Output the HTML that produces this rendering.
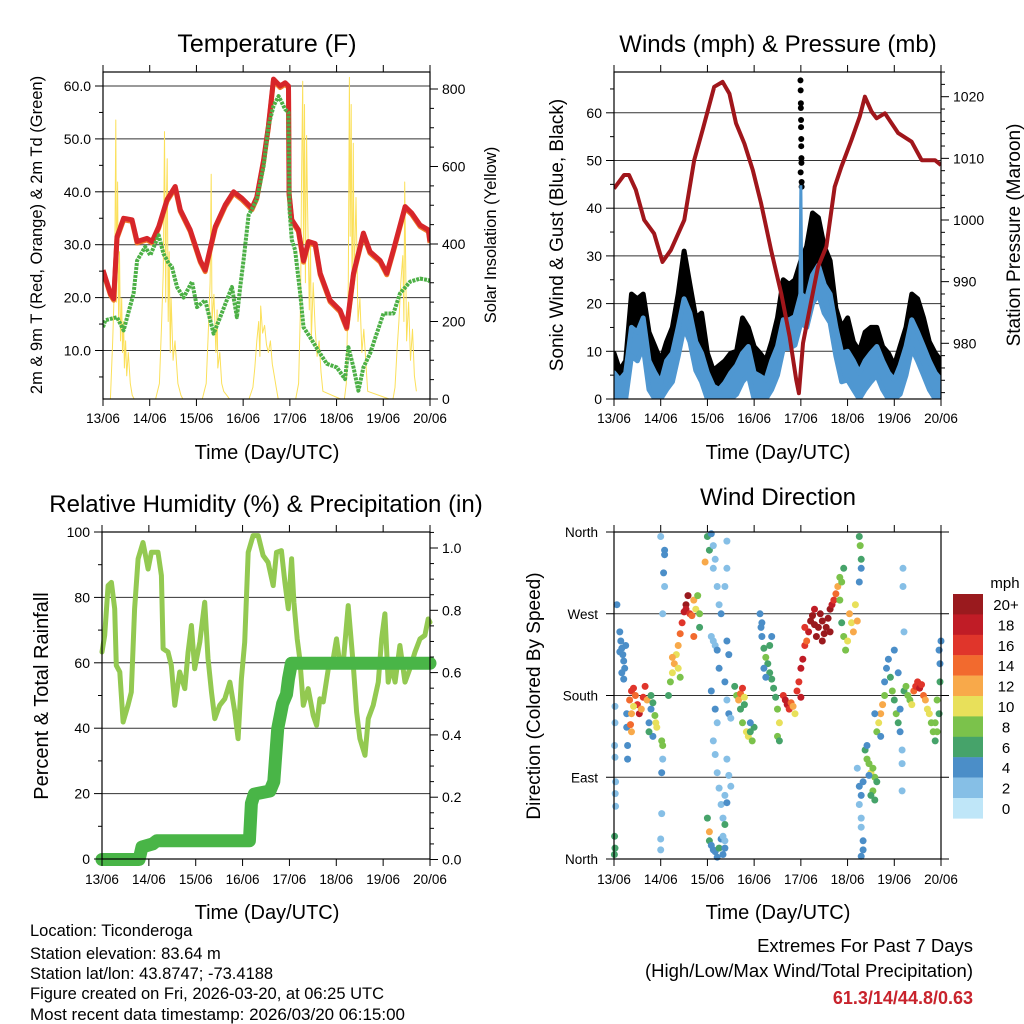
<!DOCTYPE html>
<html><head><meta charset="utf-8">
<style>
html,body{margin:0;padding:0;background:#fff;}
svg{display:block;font-family:"Liberation Sans",Arial,sans-serif;}
</style></head>
<body>
<svg id="chart" width="1024" height="1024" viewBox="0 0 1024 1024" xmlns="http://www.w3.org/2000/svg">
<rect width="1024" height="1024" fill="#fff"/>
</svg>
<script>
// ---------- DATA ----------
const dayLabels = ["13/06","14/06","15/06","16/06","17/06","18/06","19/06","20/06"];
// Temperature (F)
const tempHours = [0,3.8,5.5,7.2,10.6,14.9,17.5,22.6,25.2,28.6,32.9,37.1,39.7,44.8,50,52.5,57.7,62.8,67.1,71.3,76.5,79,82.5,85,87.6,91,93.6,95.3,95.6,97,100.4,103,105.6,109,111.6,116.7,121.8,125.2,128.7,133.8,137.2,142.4,145.8,149.2,155.2,158.6,162.9,167.2,168];
const tempValues = [25.2,20.8,19.8,31.5,35,34.7,30.6,31.2,30.6,33.4,38.5,41,36.6,32.8,27,25.2,33.4,37.5,40,38.8,36.9,39,46,52.4,61.3,60,60.6,60,39.7,34.7,32.8,27,30.6,30.2,24.6,19.5,17.6,14.4,24.6,32.2,28.7,27,24.6,29,37.2,36,33.7,32.8,30.6];
const dewHours = [0,1.2,7.2,10.6,15.7,17.5,21.7,24.3,28.6,31.1,33.7,35.4,38,41.4,45.7,48.3,52.5,56.8,60.2,66.2,68.8,70.5,72.2,74.8,79,82.5,85,87.6,90.2,93.6,95.3,95.8,97,98.7,101.3,103,106.4,111.6,115,120.1,124.4,126.1,128.7,131.2,133.8,137.2,140.6,144.1,149.2,152.6,157.8,162.9,167.2,168];
const dewValues = [14.4,15.7,16.3,13.8,20.8,27,29.6,28,31.8,28.3,26.5,25.8,22,20,23,18.2,19.5,13.2,16.3,22,16.3,22,27,35.6,38.5,44.8,52.4,56.2,58.1,55.6,55,36.6,30.9,29,20.8,14.4,12.5,9.4,7.5,6.8,4.6,10.6,6.8,2.4,6.8,9.4,13.2,17,17,20.8,23,23.6,23.3,23];
const solarHours = [0,3.8,5,6,6.6,7,7.5,8,8.5,9,9.6,10,10.6,11,11.6,12.2,13,14,15,16,27,29,30,31,31.6,32.2,32.6,33,33.5,34,34.6,35,36,37,38.5,40,41,51,53,54,55,55.6,56,57,58,58.6,59,60,61,62,63.5,65,66,75,77,78,79,80,80.6,81,82,83,84,85,86,87,88,89,90,99,100.5,101.5,102,102.6,103,103.5,104,104.6,105,106,106.6,107,108,109,110,111,112,113,122,124,125,126,126.6,127,127.5,128,128.6,129,130,131,132,133,134,135.5,136,147,149,150,151,152,153,154,154.6,155,156,157,158,159,160,161];
const solarValues = [0,0,150,320,720,250,560,200,380,150,260,120,200,80,150,60,120,40,10,0,0,40,180,330,690,250,520,620,200,380,120,260,100,150,40,10,0,0,40,160,300,580,200,270,120,230,80,120,40,20,10,0,0,0,30,80,150,200,110,240,170,190,140,120,150,90,60,30,0,0,40,250,560,820,400,760,300,680,520,230,410,150,300,180,110,150,70,20,0,0,40,300,830,420,760,250,660,300,520,200,260,120,180,60,20,0,0,30,120,200,300,370,200,560,150,250,100,180,60,20,0];
// Winds (mph) & Pressure (mb)
const windHours = [0,3,6,9,12,15,18,21,24,27,30,33,36,39,42,45,48,51,54,57,60,63,66,69,72,75,78,81,84,87,90,93,96,99,102,105,108,111,114,117,120,123,126,129,132,135,138,141,144,147,150,153,156,159,162,165,168];
const windValues = [5.5,4,5.5,15,14,17,8,5.5,3.4,8,9.6,15,21,18,12,9.6,5.5,2.7,2,3.4,5.5,7,9.6,11,5.5,4.8,4,8,11,16.6,16.6,17.3,22,21,26,28,24,22,15,9.6,10,8,5.5,8,9.6,11,8,5.5,4,7,11,16.6,14,11,8,5.5,4];
const gustValues = [9.6,6,8,22,21,22,14,11,8,12,15,22,31,24,17,18,9.6,6,7,8,9.6,10,17,15,11,9.6,8,12,17,25,24,25,29,32,39,38,32,29,19,15,17,12,10,14,15,15,11,9.6,7,11,15,22,21,17,12,9.6,8];
const spikeHours = [95.8,95.9,96,96,96.1,96.1,96.2,96.2,96.3,96.3,95.9,96.4,96.4];
const spikeGusts = [66.8,64.7,62,61,58.5,57,54.5,53,50.5,49.5,47.5,45.5,44.5];
const spikeWind = 44.8;
const presHours = [0,5.2,7.7,11.2,15.5,20.6,24.9,29.2,36.1,41.2,45.5,51.5,55.8,59.3,62.7,67,71.3,75.6,80.7,85.9,90.2,93.6,95,97.1,101.4,104.8,109.1,113.4,116.8,122,126.3,128.9,132.3,134.9,139.2,146,152.9,158.1,164.9,168];
const presValues = [1005.1,1007.3,1007.3,1004.9,1000,997.8,993.2,995.1,1000,1009.7,1014.6,1021.6,1022.4,1020.5,1015.7,1012.4,1008.1,1002.7,995.1,988.1,981.1,974.1,971.9,980,987,992.4,995.7,1005.4,1008.6,1013,1016.8,1020,1017.6,1016.5,1017.3,1014.1,1012.7,1009.7,1009.7,1008.9];
// Relative humidity & precipitation
const rhHours = [0,1.4,3.1,4.8,6.5,7.3,9.1,10.8,13.3,15,16.7,18.5,21,23.6,25.3,28.7,30.4,31.3,33.8,35.5,37.3,39.8,42.4,44.1,45.8,47.5,50.1,52.6,54.3,56.1,57.8,60.3,62.9,65.5,68,69.7,71.4,73.1,74.9,77.4,80,82.5,85.1,87.7,89.4,91.9,93.7,95.4,97.1,98.3,100,101.3,103.1,105.6,108.2,109.9,111.6,113.3,115.9,118.4,120.1,121.9,123.6,126.1,128.7,130.4,132.1,134.7,136.4,138.9,141.5,143.2,144.9,146.6,148.3,150.1,152.6,155.2,157.7,160.3,162.9,165.4,167.1,168];
const rhValues = [63.3,68.4,83.6,84.6,76.5,59.2,57.2,41.9,47,51,76.5,91.8,96.8,88.7,93.8,93.8,86.7,64.3,63.3,59.2,47,57.2,52.1,63.3,71.4,58.2,66.3,78.5,61.4,51,42.9,47,49,54.1,45,36.8,55.1,66.3,93.8,98.9,98.9,92.8,90.7,83.6,93.8,94.3,84.6,76.5,91.8,78.5,67.3,61.2,47,52.1,43.9,40.9,49,48,58.2,61.2,67.3,59.2,60.2,77.5,59.2,45,36.8,31.7,42.9,47,54.1,67.3,75,54.1,59.2,54.1,65.3,54.1,58.2,63.3,67.3,68.4,73.4,72.4];
const precipHours = [0,19,20.5,26,28,75.5,76.5,78,86,88,90,92.5,94.5,95.5,97,168];
const precipValues = [0,0,0.04,0.05,0.06,0.06,0.18,0.21,0.22,0.25,0.42,0.5,0.53,0.58,0.63,0.63];
// Wind direction scatter: [hour, direction (deg), speed (mph)]
const dirHours = [0.5,0.5,0.3,0.5,0.8,0.6,0.8,0.3,0.5,0.2,1.5,3,3.5,4,4.5,5,5.5,4,5,6,3,6.5,6.5,7,7,8,9,10,11,12,13,15,16,14,9,8.5,9,10,17,18,19,20,21,21.5,22,20,18,19,24.5,25,25,24.5,24.5,24,24,24,26,25.5,26,25,26,28,29,30,31,32,30,33,34,35,36,37,38,37,39,40,41,42,43,44,44,34,33,41,46.8,48,49,50,51,51,52,53,54,50,51,52,53,54,55,50,52,53,51,52,53,54,55,56,57,48,49,49,50,51,52,53,54,55,56,57,58,58,57,58,59,57,58,59,60,58,59,60,57,58,56,57,62,63,64,65,66,67,67,65,66,68,69,70,71,72,70,75,75.5,76,77,78,79,80,81,82,83,84,85,84,85,76,77,78,80,81,87,88,89,90,91,92,93,94,95,96,97,98,99,96,100,101,102,103,104,105,106,107,108,109,110,111,112,113,114,115,116,103,107,111,98,116,117,118,119,120,121,122,123,124,125,117,118,126,126.5,127,126,127,125,126,127,128,126,127,127,128,128,127,129,130,131,132,133,134,135,133,134,132,130,131,135,136,137,138,139,137,134,139,140,141,142,143,144,145,146,147,148,148,144,146,148,147,149,150,148.5,148.5,149,151,152,153,154,155,156,157,158,159,160,161,162,163,164,165,166,167,167.5,167.5,167,168,166,165];
const dirValues = [168,150,125,112,85,72,58,25,12,5,280,250,240,232,225,218,210,205,198,235,228,160,145,125,110,175,185,188,180,170,160,178,190,165,160,148,140,168,175,150,165,172,158,150,145,135,140,180,130,125,110,95,50,22,10,355,335,315,300,270,340,180,195,205,215,225,222,235,248,260,272,280,290,275,270,268,285,275,290,270,255,200,210,245,327,355,340,358,345,320,330,300,280,245,240,235,230,210,270,185,165,150,130,115,95,78,60,45,38,45,30,20,15,10,8,2,12,22,25,20,350,320,300,240,225,195,175,160,155,110,92,80,70,62,5,12,190,180,175,182,188,178,170,165,150,140,135,140,130,145,150,270,255,245,232,222,215,205,198,188,178,165,150,135,130,260,210,200,235,245,180,175,170,165,172,168,160,185,195,210,220,235,240,178,250,262,268,258,245,255,270,262,248,255,265,275,280,285,292,300,310,275,240,250,255,285,260,245,230,240,270,260,250,280,262,305,320,355,345,330,305,320,100,80,70,85,60,45,35,20,10,3,120,110,105,95,100,90,85,75,65,70,125,92,140,150,160,170,180,135,160,195,210,220,200,185,175,160,150,140,120,105,230,205,75,165,185,190,320,300,250,180,175,170,185,190,195,188,192,180,175,165,160,150,140,130,140,160,195,215,230,240,175,150];
const dirSpeeds = [2,2,2,2,2,2,2,6,6,6,4,4,4,4,4,4,4,4,4,4,4,4,4,4,4,14,16,16,14,16,18,16,16,12,12,14,12,10,12,4,4,6,8,10,10,4,6,6,8,8,2,4,2,2,2,2,4,4,2,2,4,6,8,10,12,10,12,12,14,16,18,20,20,18,16,14,12,10,8,8,6,8,10,14,12,6,6,4,2,2,2,2,2,2,2,2,4,4,4,4,4,2,2,2,2,2,2,2,6,6,12,6,4,4,4,4,6,4,2,2,2,2,2,4,4,4,2,4,2,2,2,2,2,4,4,4,6,8,12,14,16,10,6,6,8,10,10,6,8,6,4,4,4,4,6,8,6,6,6,6,6,8,10,8,6,4,4,4,6,4,16,18,18,16,14,12,10,16,16,18,18,16,14,18,18,20,20,20,20,20,20,20,20,20,20,20,18,16,14,12,8,18,20,20,16,8,6,8,8,10,12,10,12,10,12,8,6,6,8,6,4,4,2,4,4,4,2,2,2,4,4,4,6,8,8,10,8,8,6,8,6,6,4,4,8,10,12,12,8,4,4,4,4,4,6,8,6,8,6,4,2,2,4,4,2,4,6,8,2,2,2,8,8,10,14,16,16,18,16,14,12,10,10,8,8,6,8,6,6,4,4,4,8,8];
const speedColors = ["#bfe6f8","#86bfe6","#4b8ec8","#46a36a","#7bc24b","#e8e05a","#f8a94a","#f26a2e","#e0352b","#c01c26","#9a1a1e"];
const speedLabels = ["0","2","4","6","8","10","12","14","16","18","20+"];

// ---------- HELPERS ----------
const NS="http://www.w3.org/2000/svg";
const svg=document.getElementById("chart");
function mk(tag,attrs,parent){const e=document.createElementNS(NS,tag);for(const k in attrs)e.setAttribute(k,attrs[k]);(parent||svg).appendChild(e);return e;}
function txt(s,x,y,size,anchor,parent,extra){const t=mk("text",Object.assign({x:x,y:y,"font-size":size,"text-anchor":anchor||"middle",fill:"#000"},extra||{}),parent);t.textContent=s;return t;}
function lin(d0,d1,r0,r1){return v=>r0+(v-d0)*(r1-r0)/(d1-d0);}
function pathFrom(xs,ys,fx,fy){let d="";for(let i=0;i<xs.length;i++){d+=(i?"L":"M")+fx(xs[i]).toFixed(1)+","+fy(ys[i]).toFixed(1);}return d;}

function frame(g,P,xs){
  for(let i=0;i<=7;i++){
    const x=xs(i*24);
    mk("line",{x1:x,x2:x,y1:P.y1,y2:P.y1+7,stroke:"#000","stroke-width":1},g);
    mk("line",{x1:x,x2:x,y1:P.y0,y2:P.y0-7,stroke:"#000","stroke-width":1},g);
  }
}

// ---------- PANEL 1: TEMPERATURE ----------
(function(){
  const P={x0:103,x1:430,y0:72,y1:399};
  const g=mk("g",{});
  
  
  const xs=lin(0,168,P.x0,P.x1), ys=lin(10,60,350.5,86), yr=lin(0,800,399,89);
  const defs=mk("defs",{},g);const cp=mk("clipPath",{id:"c1"},defs);mk("rect",{x:P.x0,y:P.y0,width:P.x1-P.x0,height:P.y1-P.y0},cp);
  for(let v=10;v<=60;v+=10){mk("line",{x1:P.x0,x2:P.x1,y1:ys(v),y2:ys(v),stroke:"#333","stroke-width":1},g);}
  const plot=mk("g",{"clip-path":"url(#c1)"},g);
  const sol=mk("path",{d:pathFrom(solarHours,solarValues,xs,yr),fill:"none",stroke:"#fbe05a","stroke-width":1,"stroke-linejoin":"round"},plot);
  
  
  const t2=mk("path",{d:pathFrom(tempHours,tempValues,xs,ys),transform:"translate(0,1.5)",fill:"none",stroke:"#f07a2a","stroke-width":5,"stroke-linejoin":"round"},plot);
  
  
  const t1=mk("path",{d:pathFrom(tempHours,tempValues,xs,ys),fill:"none",stroke:"#d7262a","stroke-width":5,"stroke-linejoin":"round"},plot);
  
  
  const dw=mk("path",{d:pathFrom(dewHours,dewValues,xs,ys),fill:"none",stroke:"#4cb046","stroke-width":4,"stroke-dasharray":"3 1","stroke-linejoin":"round"},plot);
  
  
  mk("rect",{x:P.x0,y:P.y0,width:P.x1-P.x0,height:P.y1-P.y0,fill:"none",stroke:"#000","stroke-width":1.2},g);
  frame(g,P,xs);
  for(let v=5;v<=60;v+=5){const y=ys(v);mk("line",{x1:P.x0-(v%10?4:8),x2:P.x0,y1:y,y2:y,stroke:"#000"},g);
    if(v%10==0)txt(v.toFixed(1),P.x0-12,y+5,14,"end",g);}
  for(let v=0;v<=800;v+=50){const y=yr(v);mk("line",{x1:P.x1,x2:P.x1+(v%200?4:8),y1:y,y2:y,stroke:"#000"},g);
    if(v%200==0)txt(String(v),P.x1+12,y+5,14,"start",g);}
  for(let i=0;i<=7;i++)txt(dayLabels[i],xs(i*24),423,13.5,"middle",g);
  const tt=txt("Temperature (F)",267,52,25,"middle",g);
  
  
  const xt=txt("Time (Day/UTC)",267,459,20,"middle",g);
  
  
  const yl=txt("2m & 9m T (Red, Orange) & 2m Td (Green)",0,0,16.5,"middle",g,{transform:"translate(42,235) rotate(-90)"});
  
  
  const yr2=txt("Solar Insolation (Yellow)",0,0,16.5,"middle",g,{transform:"translate(496,235) rotate(-90)"});
  
  
})();

// ---------- PANEL 2: WINDS ----------
(function(){
  const P={x0:614,x1:941,y0:72,y1:399};
  const g=mk("g",{});
  
  
  const xs=lin(0,168,P.x0,P.x1), ys=lin(0,60,399,112.8), yp=lin(980,1020,343.3,96.7);
  const defs=mk("defs",{},g);const cp=mk("clipPath",{id:"c2"},defs);mk("rect",{x:P.x0,y:P.y0,width:P.x1-P.x0,height:P.y1-P.y0},cp);
  for(let v=10;v<=60;v+=10){mk("line",{x1:P.x0,x2:P.x1,y1:ys(v),y2:ys(v),stroke:"#333","stroke-width":1},g);}
  const plot=mk("g",{"clip-path":"url(#c2)"},g);
  let d="";for(let i=0;i<windHours.length;i++)d+=(i?"L":"M")+xs(windHours[i]).toFixed(1)+","+ys(gustValues[i]).toFixed(1);
  for(let i=windHours.length-1;i>=0;i--)d+="L"+xs(windHours[i]).toFixed(1)+","+ys(windValues[i]).toFixed(1);
  const gb=mk("path",{d:d+"Z",fill:"#000",stroke:"#000","stroke-width":5,"stroke-linejoin":"round"},plot);
  
  
  for(let i=0;i<spikeHours.length;i++){
    const c=mk("circle",{cx:xs(spikeHours[i]),cy:ys(spikeGusts[i]),r:3,fill:"#000"},plot);
    
    
  }
  let d2="";for(let i=0;i<windHours.length;i++)d2+=(i?"L":"M")+xs(windHours[i]).toFixed(1)+","+ys(windValues[i]).toFixed(1);
  for(let i=windHours.length-1;i>=0;i--)d2+="L"+xs(windHours[i]).toFixed(1)+","+ys(Math.max(0,windValues[i]-6)).toFixed(1);
  const wb=mk("path",{d:d2+"Z",fill:"#4f97d1",stroke:"#4f97d1","stroke-width":5,"stroke-linejoin":"round"},plot);
  
  
  const sp=mk("path",{d:"M"+xs(95.4)+","+ys(18)+"L"+xs(96)+","+ys(spikeWind)+"L"+xs(96.6)+","+ys(18)+"Z",fill:"#4f97d1",stroke:"#4f97d1","stroke-width":3},plot);
  
  
  const pr=mk("path",{d:pathFrom(presHours,presValues,xs,yp),fill:"none",stroke:"#a0161b","stroke-width":4,"stroke-linejoin":"round"},plot);
  
  
  mk("rect",{x:P.x0,y:P.y0,width:P.x1-P.x0,height:P.y1-P.y0,fill:"none",stroke:"#000","stroke-width":1.2},g);
  frame(g,P,xs);
  for(let v=0;v<=65;v+=5){const y=ys(v);mk("line",{x1:P.x0-(v%10?4:8),x2:P.x0,y1:y,y2:y,stroke:"#000"},g);
    if(v%10==0)txt(String(v),P.x0-12,y+5,14,"end",g);}
  for(let v=972;v<=1024;v+=2){const y=yp(v);mk("line",{x1:P.x1,x2:P.x1+(v%10?4:8),y1:y,y2:y,stroke:"#000"},g);
    if(v%10==0)txt(String(v),P.x1+12,y+5,14,"start",g);}
  for(let i=0;i<=7;i++)txt(dayLabels[i],xs(i*24),423,13.5,"middle",g);
  const tt=txt("Winds (mph) & Pressure (mb)",778,52,24,"middle",g);
  
  
  const xt=txt("Time (Day/UTC)",778,459,20,"middle",g);
  
  
  const yl=txt("Sonic Wind & Gust (Blue, Black)",0,0,19,"middle",g,{transform:"translate(563,235) rotate(-90)"});
  
  
  const yr2=txt("Station Pressure (Maroon)",0,0,19,"middle",g,{transform:"translate(1020,235) rotate(-90)"});
  
  
})();

// ---------- PANEL 3: RH & PRECIP ----------
(function(){
  const P={x0:102,x1:430,y0:532,y1:859};
  const g=mk("g",{});
  
  
  const xs=lin(0,168,P.x0,P.x1), ys=lin(0,100,859,532), yr=lin(0,1,859.5,548);
  for(let v=20;v<=80;v+=20){mk("line",{x1:P.x0,x2:P.x1,y1:ys(v),y2:ys(v),stroke:"#333","stroke-width":1},g);}
  const rh=mk("path",{d:pathFrom(rhHours,rhValues,xs,ys),fill:"none",stroke:"#93c951","stroke-width":5,"stroke-linejoin":"round","stroke-linecap":"round"},g);
  
  
  const pc=mk("path",{d:pathFrom(precipHours,precipValues,xs,yr),fill:"none",stroke:"#49b547","stroke-width":13,"stroke-linejoin":"round","stroke-linecap":"round"},g);
  
  
  mk("rect",{x:P.x0,y:P.y0,width:P.x1-P.x0,height:P.y1-P.y0,fill:"none",stroke:"#000","stroke-width":1.2},g);
  frame(g,P,xs);
  for(let v=0;v<=100;v+=10){const y=ys(v);mk("line",{x1:P.x0-(v%20?4:8),x2:P.x0,y1:y,y2:y,stroke:"#000"},g);
    if(v%20==0)txt(String(v),P.x0-12,y+5,14,"end",g);}
  for(let k=0;k<=21;k++){const v=k*0.05;const y=yr(v);mk("line",{x1:P.x1,x2:P.x1+(k%4?4:8),y1:y,y2:y,stroke:"#000"},g);
    if(k%4==0)txt(v.toFixed(1),P.x1+12,y+5,14,"start",g);}
  for(let i=0;i<=7;i++)txt(dayLabels[i],xs(i*24),884,13.5,"middle",g);
  const tt=txt("Relative Humidity (%) & Precipitation (in)",266,512,24,"middle",g);
  
  
  const xt=txt("Time (Day/UTC)",267,919,20,"middle",g);
  
  
  const yl=txt("Percent & Total Rainfall",0,0,20,"middle",g,{transform:"translate(48,696) rotate(-90)"});
  
  
})();

// ---------- PANEL 4: WIND DIRECTION ----------
(function(){
  const P={x0:614,x1:941,y0:532,y1:859};
  const g=mk("g",{});
  
  
  const xs=lin(0,168,P.x0,P.x1), ys=lin(0,360,859,532);
  for(let v=90;v<=270;v+=90){mk("line",{x1:P.x0,x2:P.x1,y1:ys(v),y2:ys(v),stroke:"#333","stroke-width":1},g);}
  for(let i=0;i<dirHours.length;i++){
    const ci=Math.min(10,Math.max(0,Math.round(dirSpeeds[i]/2)));
    const c=mk("circle",{cx:xs(dirHours[i]).toFixed(1),cy:ys(dirValues[i]).toFixed(1),r:3.5,fill:speedColors[ci]},g);
    
    
  }
  mk("rect",{x:P.x0,y:P.y0,width:P.x1-P.x0,height:P.y1-P.y0,fill:"none",stroke:"#000","stroke-width":1.2},g);
  frame(g,P,xs);
  const dl=["North","East","South","West","North"];
  for(let k=0;k<=4;k++){const y=ys(k*90);mk("line",{x1:P.x0-8,x2:P.x0,y1:y,y2:y,stroke:"#000"},g);
    txt(dl[k],P.x0-16,y+5,13.5,"end",g);
    mk("line",{x1:P.x1,x2:P.x1+8,y1:y,y2:y,stroke:"#000"},g);}
  for(let i=0;i<=7;i++)txt(dayLabels[i],xs(i*24),884,13.5,"middle",g);
  const tt=txt("Wind Direction",778,505,24,"middle",g);
  
  
  const xt=txt("Time (Day/UTC)",778,919,20,"middle",g);
  
  
  const yl=txt("Direction (Colored By Speed)",0,0,19,"middle",g,{transform:"translate(540,696) rotate(-90)"});
  
  
  const cb=mk("g",{},g);
  
  
  txt("mph",1005,588,15,"middle",cb);
  for(let k=0;k<11;k++){
    const idx=10-k, y=594+k*20.4;
    const r=mk("rect",{x:953,y:y,width:30,height:20.6,fill:speedColors[idx]},cb);
    
    
    txt(speedLabels[idx],1006,y+16,15,"middle",cb);
  }
})();

// ---------- FOOTER TEXT ----------
(function(){
  const g=mk("g",{});
  
  
  const lines=["Location: Ticonderoga","Station elevation: 83.64 m","Station lat/lon: 43.8747; -73.4188","Figure created on Fri, 2026-03-20, at 06:25 UTC","Most recent data timestamp: 2026/03/20 06:15:00"];
  const ys=[936,959,979,999,1020];
  for(let i=0;i<lines.length;i++)txt(lines[i],30,ys[i],16.5,"start",g,{textLength:i==4?375:undefined,lengthAdjust:"spacingAndGlyphs"});
  const g2=mk("g",{});
  
  
  txt("Extremes For Past 7 Days",973,952,18.5,"end",g2);
  txt("(High/Low/Max Wind/Total Precipitation)",973,977,18.5,"end",g2);
  txt("61.3/14/44.8/0.63",973,1004,18,"end",g2,{fill:"#c8232c","font-weight":"bold"});
})();
</script>
</body></html>
